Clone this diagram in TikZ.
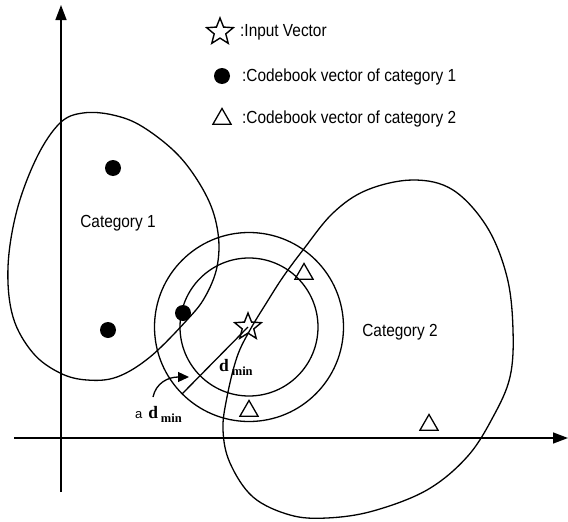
\documentclass[tikz,border=0pt]{standalone}
\usepackage{fontspec}
\setmainfont{Liberation Serif}
\setsansfont{Liberation Sans}
\usetikzlibrary{shapes.geometric,arrows.meta}
\newcommand\narrowtxt[1]{\scalebox{0.88}[1]{#1}}
\begin{document}
\begin{tikzpicture}[x=1pt,y=-1pt,
  curve/.style={line width=1.3pt},
  axis/.style={line width=1.4pt,-{Triangle[length=15pt,width=11pt]}},
  dotmark/.style={circle,fill=black,inner sep=0pt,minimum size=16pt},
  trimark/.style={regular polygon,regular polygon sides=3,draw,line width=1.3pt,inner sep=0pt,minimum size=21pt},
  starmark/.style={star,star points=5,star point ratio=2.3,draw,line width=1.4pt,inner sep=0pt,minimum size=28pt},
  lbl/.style={font=\sffamily\fontsize{17.5}{20}\selectfont,inner sep=0pt,anchor=west},
  dlbl/.style={font=\bfseries\fontsize{17.5}{20}\selectfont,inner sep=0pt,anchor=base west},
]
\useasboundingbox (0,0) rectangle (568,522);

% axes
\coordinate (xs) at (14,438);
\coordinate (xe) at (568,438);
\coordinate (ys) at (61,492);
\coordinate (ye) at (61,5);
\draw[axis] (xs) -- (xe);
\draw[axis] (ys) -- (ye);

% legend
\node[starmark] (lstar) at (220,32) {};
\node[lbl] (ltxt1) at (240,32) {\narrowtxt{:Input Vector}};
\node[dotmark] (ldot) at (222,76) {};
\node[lbl] (ltxt2) at (242,77) {\narrowtxt{:Codebook vector of category 1}};
\node[trimark] (ltri) at (222,119) {};
\node[lbl] (ltxt3) at (242,119) {\narrowtxt{:Codebook vector of category 2}};

% category 1 region
\draw[curve] plot[smooth cycle, tension=0.6] coordinates {
 (83,113) (60,123) (37,157) (17,210) (8,267) (13,317) (33,353) (60,373)
 (87,380) (117,377) (150,357) (187,320) (205,297) (217,267) (218,233)
 (207,197) (180,157) (143,127) (113,115)};

% category 2 region
\draw[curve] plot[smooth cycle, tension=0.6] coordinates {
 (283,277) (303,250) (333,213) (367,190) (413,180) (453,190) (487,227)
 (507,277) (513,330) (510,377) (493,417) (467,457) (427,490) (373,511)
 (327,518) (290,515) (253,497) (230,463) (223,430) (227,397) (237,357)
 (250,330) (267,302)};

% circles
\draw[curve] (249,327) circle[radius=69];
\draw[curve] (249,327) circle[radius=94.5];

% codebook vectors
\node[dotmark] (c1a) at (113,168) {};
\node[dotmark] (c1b) at (108,330) {};
\node[dotmark] (c1c) at (183,313) {};
\node[trimark] (c2a) at (304,274) {};
\node[trimark] (c2b) at (249,411) {};
\node[trimark] (c2c) at (429,425) {};

% input vector
\node[starmark] (inp) at (248,327) {};

% d_min radius
\coordinate (rim) at (182,394);
\draw[curve] (inp.center) -- (rim);

% curved arrow
\coordinate (cs) at (153,397);
\coordinate (ce) at (189,377);
\draw[curve,-{Triangle[length=11pt,width=10pt]}] (cs) .. controls (156,383) and (168,377) .. (ce);

% labels
\node[lbl,anchor=center] (cat1) at (118,223) {\narrowtxt{Category 1}};
\node[lbl,anchor=center] (cat2) at (400,332) {\narrowtxt{Category 2}};
\node[dlbl] (dmin) at (219,371) {d\,\raisebox{-4pt}{\fontsize{12.5}{13}\selectfont min}};
\node[dlbl] (admin) at (135,418) {{\sffamily\mdseries\fontsize{13}{13}\selectfont a}\,\,d\,\raisebox{-4pt}{\fontsize{12.5}{13}\selectfont min}};
\end{tikzpicture}
\end{document}
